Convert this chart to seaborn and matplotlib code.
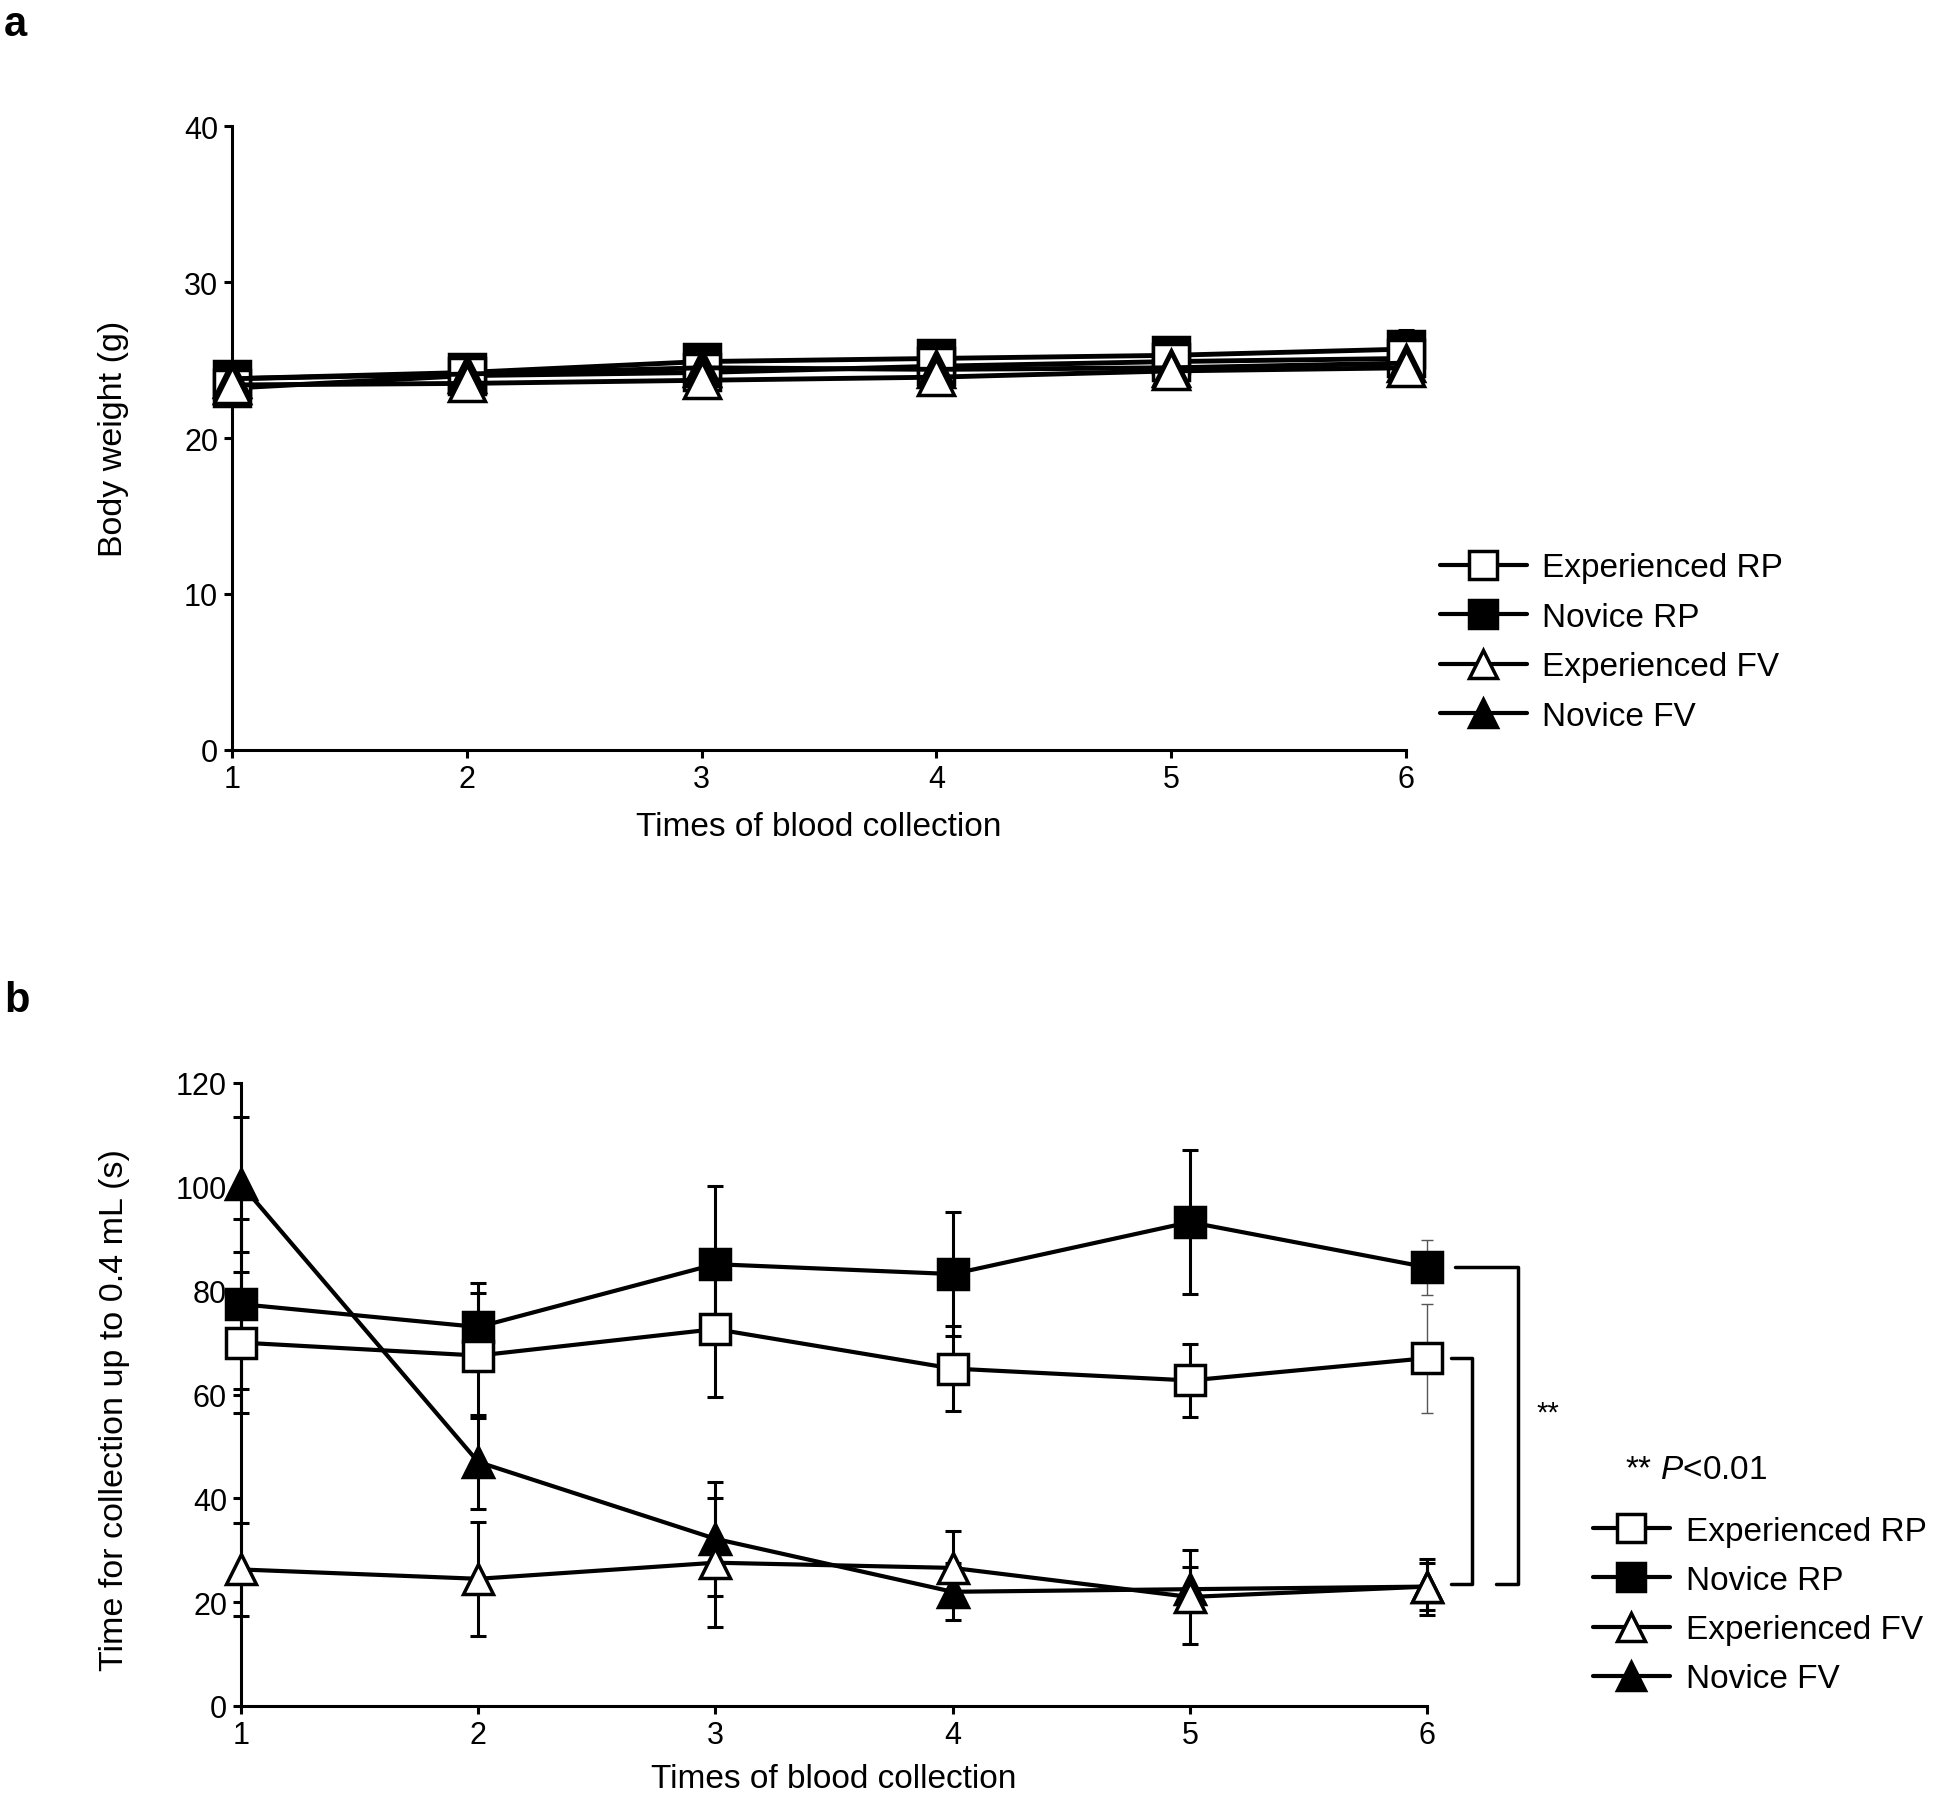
import matplotlib.pyplot as plt
import matplotlib.lines as mlines
import pandas as pd
import seaborn as sns

sns.set_theme(style="ticks")
plt.rcParams["font.family"] = ["Liberation Sans", "DejaVu Sans"]
plt.rcParams["mathtext.fontset"] = "custom"
plt.rcParams["mathtext.rm"] = "Liberation Sans"
plt.rcParams["mathtext.it"] = "Liberation Sans:italic"
for key in ["text.color", "axes.labelcolor", "xtick.color", "ytick.color"]:
    plt.rcParams[key] = "black"

times = [1, 2, 3, 4, 5, 6]
groups = ["Experienced RP", "Novice RP", "Experienced FV", "Novice FV"]

# a: body weight (g), mean and SD
bw_exp_rp = [23.2, 24.0, 24.2, 24.6, 24.9, 25.1]
bw_exp_rp_sd = [1.0, 0.9, 1.0, 1.0, 1.1, 1.2]
bw_nov_rp = [23.8, 24.2, 24.9, 25.1, 25.3, 25.7]
bw_nov_rp_sd = [1.0, 1.0, 1.0, 1.0, 1.1, 1.2]
bw_exp_fv = [23.4, 23.5, 23.7, 23.9, 24.3, 24.5]
bw_exp_fv_sd = [1.1, 1.0, 1.0, 1.0, 1.0, 1.0]
bw_nov_fv = [23.8, 24.1, 24.5, 24.4, 24.5, 24.8]
bw_nov_fv_sd = [1.0, 1.0, 1.0, 1.0, 1.0, 1.0]

# b: time for collection up to 0.4 mL (s), mean and SD
tm_exp_rp = [70.0, 67.5, 72.6, 65.0, 62.7, 67.0]
tm_exp_rp_sd = [13.5, 12.0, 13.0, 8.2, 7.0, 10.5]
tm_nov_rp = [77.4, 73.0, 85.1, 83.2, 93.2, 84.5]
tm_nov_rp_sd = [16.4, 8.5, 15.0, 12.0, 13.8, 5.3]
tm_exp_fv = [26.3, 24.5, 27.6, 26.6, 21.0, 23.0]
tm_exp_fv_sd = [9.0, 11.0, 12.4, 7.2, 9.0, 5.4]
tm_nov_fv = [100.5, 47.0, 32.2, 22.0, 22.5, 23.0]
tm_nov_fv_sd = [13.0, 9.0, 11.0, 5.5, 4.3, 4.5]

styles = {
    "Experienced RP": dict(marker="s", mfc="white"),
    "Novice RP": dict(marker="s", mfc="black"),
    "Experienced FV": dict(marker="^", mfc="white"),
    "Novice FV": dict(marker="^", mfc="black"),
}
draw_order = ["Novice RP", "Experienced RP", "Novice FV", "Experienced FV"]


def long_df(values, sds):
    rows = []
    for g in groups:
        for t, v, s in zip(times, values[g], sds[g]):
            rows.append({"time": t, "value": v, "sd": s, "group": g})
    return pd.DataFrame(rows)


df_a = long_df(
    {"Experienced RP": bw_exp_rp, "Novice RP": bw_nov_rp,
     "Experienced FV": bw_exp_fv, "Novice FV": bw_nov_fv},
    {"Experienced RP": bw_exp_rp_sd, "Novice RP": bw_nov_rp_sd,
     "Experienced FV": bw_exp_fv_sd, "Novice FV": bw_nov_fv_sd},
)
df_b = long_df(
    {"Experienced RP": tm_exp_rp, "Novice RP": tm_nov_rp,
     "Experienced FV": tm_exp_fv, "Novice FV": tm_nov_fv},
    {"Experienced RP": tm_exp_rp_sd, "Novice RP": tm_nov_rp_sd,
     "Experienced FV": tm_exp_fv_sd, "Novice FV": tm_nov_fv_sd},
)


def errbars(ax, x, y, e, lw, cap, color="black"):
    eb = ax.errorbar(x, y, yerr=e, fmt="none", ecolor=color, elinewidth=lw,
                     capsize=cap, capthick=lw, zorder=1)
    for art in list(eb.lines[1]) + list(eb.lines[2]):
        art.set_clip_on(False)


def draw_panel(ax, df, msize, lw, thin_last=False):
    for g in draw_order:
        sub = df[df["group"] == g]
        if thin_last and g.endswith("RP"):
            head, tail = sub.iloc[:-1], sub.iloc[-1:]
            errbars(ax, head["time"], head["value"], head["sd"], 2.2, 6)
            errbars(ax, tail["time"], tail["value"], tail["sd"], 1.0, 4, "#555555")
        else:
            errbars(ax, sub["time"], sub["value"], sub["sd"], 2.2, 6)
        sns.lineplot(data=sub, x="time", y="value", ax=ax, color="black",
                     linewidth=lw, markersize=msize, markeredgecolor="black",
                     markeredgewidth=2.5, clip_on=False, errorbar=None,
                     zorder=3, **styles[g])


def style_axes(ax):
    sns.despine(ax=ax)
    for s in ["left", "bottom"]:
        ax.spines[s].set_linewidth(2.2)
        ax.spines[s].set_color("black")
    ax.tick_params(direction="out", length=6, width=2.2, labelsize=22,
                   colors="black", pad=4)
    ax.set_xlim(1, 6)
    ax.set_xticks(times)


fig = plt.figure(figsize=(19.46, 17.99), dpi=100)

# --- a: body weight ---
ax_a = fig.add_axes([232 / 1946, 1 - 751 / 1799, 1174 / 1946, 624 / 1799])
draw_panel(ax_a, df_a, 26, 3.5)
style_axes(ax_a)
ax_a.set_ylim(0, 40)
ax_a.set_yticks([0, 10, 20, 30, 40])
ax_a.set_xlabel("Times of blood collection", fontsize=24)
ax_a.set_ylabel("Body weight (g)", fontsize=24.5)
ax_a.xaxis.set_label_coords(0.5, -0.097)
ax_a.yaxis.set_label_coords(-0.088, 0.5)

# --- b: collection time ---
ax_b = fig.add_axes([241 / 1946, 1 - 1707 / 1799, 1186 / 1946, 623 / 1799])
draw_panel(ax_b, df_b, 21, 3, thin_last=True)
style_axes(ax_b)
ax_b.set_ylim(0, 120)
ax_b.set_yticks([0, 20, 40, 60, 80, 100, 120])
ax_b.set_xlabel("Times of blood collection", fontsize=24)
ax_b.set_ylabel("Time for collection up to 0.4 mL (s)", fontsize=24.5)
ax_b.xaxis.set_label_coords(0.5, -0.092)
ax_b.yaxis.set_label_coords(-0.094, 0.477)

# significance brackets
top_out = tm_nov_rp[-1]
top_in = tm_exp_rp[-1]
bot = max(tm_exp_fv[-1], tm_nov_fv[-1]) + 0.5
ax_b.plot([6.12, 6.385, 6.385, 6.29], [top_out, top_out, bot, bot],
          color="black", lw=2.5, clip_on=False)
ax_b.plot([6.10, 6.19, 6.19, 6.10], [top_in, top_in, bot, bot],
          color="black", lw=2.5, clip_on=False)
ax_b.text(6.46, 56.5, "**", fontsize=21, ha="left", va="center")

fig.text(1625 / 1946, 1 - 1471 / 1799, r"** $\mathit{P}$<0.01", fontsize=24,
         ha="left", va="center")

# legends
def handles(msize):
    return [mlines.Line2D([], [], color="black", lw=3, markersize=msize,
                          markeredgecolor="black", markeredgewidth=2.5,
                          **styles[g]) for g in groups]


fig.legend(handles(20), groups, loc="center left", frameon=False,
           bbox_to_anchor=(1440 / 1946, 1 - 643 / 1799), fontsize=24,
           handlelength=2.6, handletextpad=0.45, labelspacing=0.55,
           borderpad=0, borderaxespad=0)
fig.legend(handles(20), groups, loc="center left", frameon=False,
           bbox_to_anchor=(1593 / 1946, 1 - 1606 / 1799), fontsize=24,
           handlelength=2.3, handletextpad=0.5, labelspacing=0.55,
           borderpad=0, borderaxespad=0)

fig.text(4 / 1946, 1 - 36 / 1799, "a", fontsize=30, fontweight="bold")
fig.text(4 / 1946, 1 - 1012 / 1799, "b", fontsize=30, fontweight="bold")

fig.savefig("out.png", dpi=100)
